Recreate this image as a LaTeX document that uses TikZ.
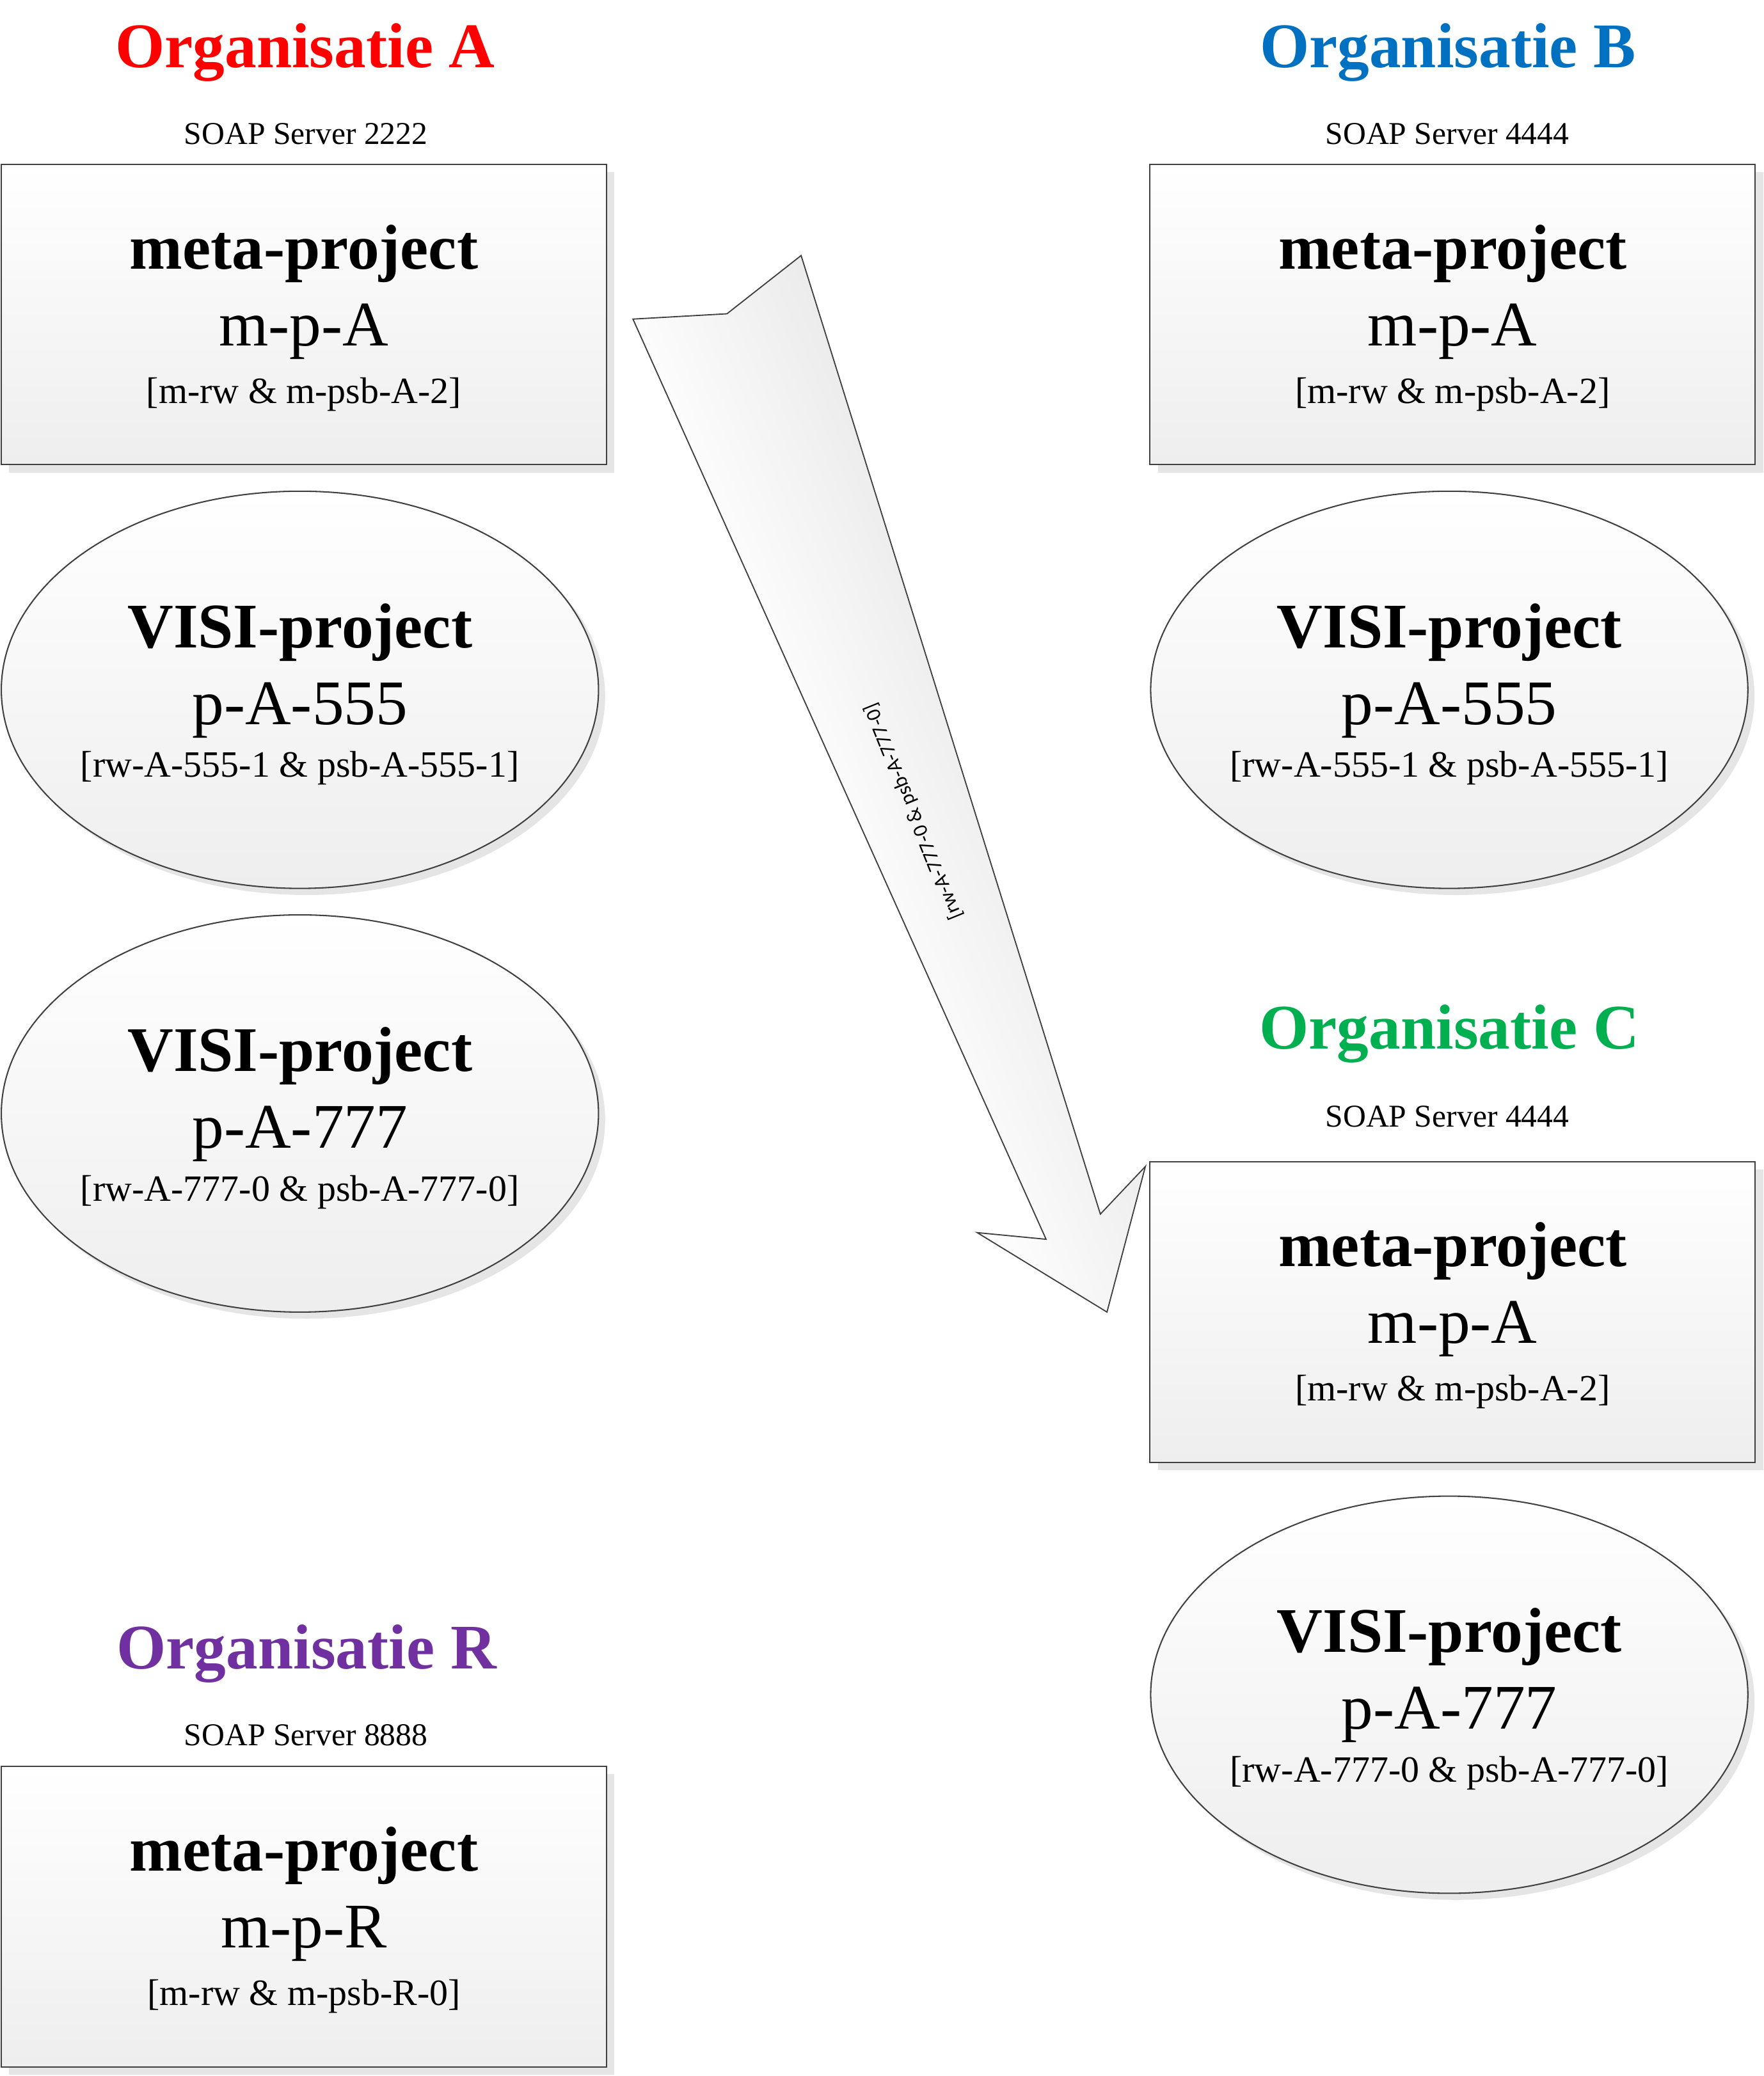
\documentclass[tikz,border=0pt]{standalone}
\usepackage{fontspec}
\setmainfont{Liberation Serif}
\newfontfamily\labelfont{Carlito}
\usetikzlibrary{shapes.geometric}
\definecolor{orgA}{RGB}{255,0,0}
\definecolor{orgB}{RGB}{0,112,192}
\definecolor{orgC}{RGB}{0,176,80}
\definecolor{orgR}{RGB}{112,48,160}
\definecolor{edgegray}{RGB}{64,64,64}
\definecolor{shadowgray}{RGB}{229,229,229}
\definecolor{fillbottom}{RGB}{238,238,238}
\begin{document}
\begin{tikzpicture}[x=1pt,y=1pt,
  mbox/.style={rectangle, draw=edgegray, line width=1pt, minimum width=457pt, minimum height=227pt,
    top color=white, bottom color=fillbottom, inner sep=0pt, outer sep=0pt},
  vell/.style={ellipse, draw=edgegray, line width=1pt, minimum width=451pt, minimum height=300pt,
    top color=white, bottom color=fillbottom, inner sep=0pt, outer sep=0pt},
  shbox/.style={rectangle, fill=shadowgray, minimum width=457pt, minimum height=227pt, inner sep=0pt},
  shell/.style={ellipse, fill=shadowgray, minimum width=451pt, minimum height=300pt, inner sep=0pt},
  orgtitle/.style={anchor=base, inner sep=0pt, font=\fontsize{48}{56}\selectfont\bfseries},
  soap/.style={anchor=base, inner sep=0pt, font=\fontsize{24}{28}\selectfont},
  bigbold/.style={anchor=base, inner sep=0pt, font=\fontsize{48}{56}\selectfont\bfseries},
  bigreg/.style={anchor=base, inner sep=0pt, font=\fontsize{48}{56}\selectfont},
  codeline/.style={anchor=base, inner sep=0pt, font=\fontsize{28}{32}\selectfont},
  arrowlbl/.style={inner sep=0pt, font=\labelfont\fontsize{15.5}{18}\selectfont}
]
\useasboundingbox (0,0) rectangle (1332,-1568);

% ---------- titles ----------
\node[orgtitle, text=orgA] (tA) at (230.5,-51) {Organisatie A};
\node[soap] (sA) at (231,-109) {SOAP Server 2222};
\node[orgtitle, text=orgB] (tB) at (1093.5,-51) {Organisatie B};
\node[soap] (sB) at (1093,-109) {SOAP Server 4444};
\node[orgtitle, text=orgC] (tC) at (1094.5,-792) {Organisatie C};
\node[soap] (sC) at (1093,-851) {SOAP Server 4444};
\node[orgtitle, text=orgR] (tR) at (231.5,-1260.5) {Organisatie R};
\node[soap] (sR) at (231,-1318.5) {SOAP Server 8888};

% ---------- shadows ----------
\node[shbox] (shA)  at (235.5,-243.5) {};
\node[shbox] (shB)  at (1103,-243.5) {};
\node[shbox] (shC)  at (1103,-997) {};
\node[shbox] (shR)  at (235.5,-1453.5) {};
\node[shell] (shA5) at (231.5,-526) {};
\node[shell] (shA7) at (231.5,-846) {};
\node[shell] (shB5) at (1099.5,-526) {};
\node[shell] (shC7) at (1099.5,-1285) {};

% ---------- block arrow ----------
\coordinate (p1) at (478,-241);
\coordinate (p2) at (549,-237);
\coordinate (p3) at (605,-193);
\coordinate (p4) at (831,-917);
\coordinate (p5) at (865,-881);
\coordinate (p6) at (836,-991);
\coordinate (p7) at (738,-931);
\coordinate (p8) at (790,-936);
\fill[shadowgray, shift={(5,-5)}] (p1) -- (p2) -- (p3) -- (p4) -- (p5) -- (p6) -- (p7) -- (p8) -- cycle;
\begin{scope}
  \clip (p1) -- (p2) -- (p3) -- (p4) -- (p5) -- (p6) -- (p7) -- (p8) -- cycle;
  \fill[white] (470,-180) rectangle (880,-1000);
  \shade[transform canvas={rotate around={-68:(671,-592)}}, top color=black!8, bottom color=white]
    (-29,-660) rectangle (1371,-497);
\end{scope}
\draw[edgegray, line width=0.9pt, line join=miter]
  (p1) -- (p2) -- (p3) -- (p4) -- (p5) -- (p6) -- (p7) -- (p8) -- cycle;
\node[arrowlbl, rotate=112] (lbl) at (690,-613) {[rw-A-777-0 \& psb-A-777-0]};

% ---------- boxes ----------
\node[mbox] (bA) at (229.5,-237.5) {};
\node[bigbold] (bA1) at ([yshift=34.5pt]bA.center) {meta-project};
\node[bigreg]  (bA2) at ([yshift=-23.5pt]bA.center) {m-p-A};
\node[codeline] (bA3) at ([yshift=-67pt]bA.center) {[m-rw \& m-psb-A-2]};

\node[mbox] (bB) at (1097,-237.5) {};
\node[bigbold] (bB1) at ([yshift=34.5pt]bB.center) {meta-project};
\node[bigreg]  (bB2) at ([yshift=-23.5pt]bB.center) {m-p-A};
\node[codeline] (bB3) at ([yshift=-67pt]bB.center) {[m-rw \& m-psb-A-2]};

\node[mbox] (bC) at (1097,-991) {};
\node[bigbold] (bC1) at ([yshift=34.5pt]bC.center) {meta-project};
\node[bigreg]  (bC2) at ([yshift=-23.5pt]bC.center) {m-p-A};
\node[codeline] (bC3) at ([yshift=-67pt]bC.center) {[m-rw \& m-psb-A-2]};

\node[mbox] (bR) at (229.5,-1447.5) {};
\node[bigbold] (bR1) at ([yshift=34.5pt]bR.center) {meta-project};
\node[bigreg]  (bR2) at ([yshift=-23.5pt]bR.center) {m-p-R};
\node[codeline] (bR3) at ([yshift=-67pt]bR.center) {[m-rw \& m-psb-R-0]};

% ---------- ellipses ----------
\node[vell] (eA5) at (226.5,-521) {};
\node[bigbold] (eA51) at ([yshift=32pt]eA5.center) {VISI-project};
\node[bigreg]  (eA52) at ([yshift=-26pt]eA5.center) {p-A-555};
\node[codeline] (eA53) at ([yshift=-66pt]eA5.center) {[rw-A-555-1 \& psb-A-555-1]};

\node[vell] (eA7) at (226.5,-841) {};
\node[bigbold] (eA71) at ([yshift=32pt]eA7.center) {VISI-project};
\node[bigreg]  (eA72) at ([yshift=-26pt]eA7.center) {p-A-777};
\node[codeline] (eA73) at ([yshift=-66pt]eA7.center) {[rw-A-777-0 \& psb-A-777-0]};

\node[vell] (eB5) at (1094.5,-521) {};
\node[bigbold] (eB51) at ([yshift=32pt]eB5.center) {VISI-project};
\node[bigreg]  (eB52) at ([yshift=-26pt]eB5.center) {p-A-555};
\node[codeline] (eB53) at ([yshift=-66pt]eB5.center) {[rw-A-555-1 \& psb-A-555-1]};

\node[vell] (eC7) at (1094.5,-1280) {};
\node[bigbold] (eC71) at ([yshift=32pt]eC7.center) {VISI-project};
\node[bigreg]  (eC72) at ([yshift=-26pt]eC7.center) {p-A-777};
\node[codeline] (eC73) at ([yshift=-66pt]eC7.center) {[rw-A-777-0 \& psb-A-777-0]};
\end{tikzpicture}
\end{document}
